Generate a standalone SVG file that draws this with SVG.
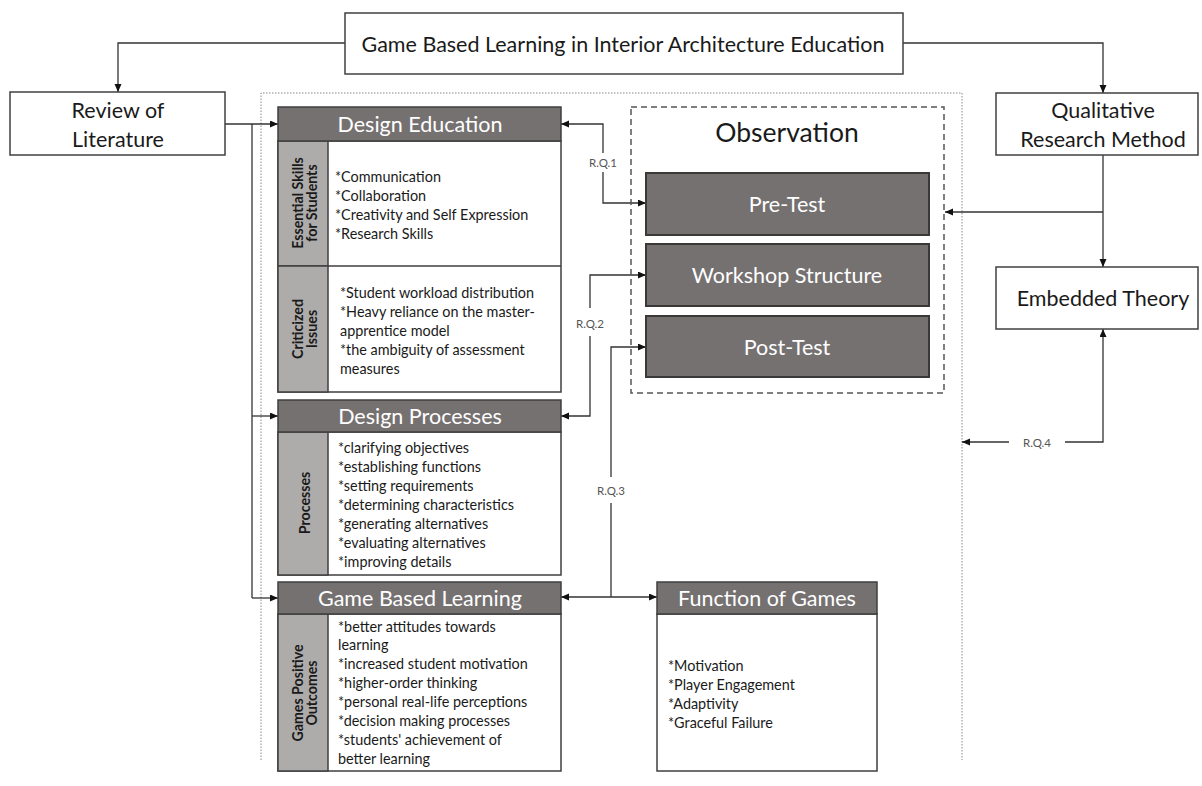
<svg xmlns="http://www.w3.org/2000/svg" width="1202" height="786" viewBox="0 0 1202 786">
<style>
text{font-family:Lato,"Liberation Sans",sans-serif}
.box{fill:#fff;stroke:#404040;stroke-width:1.5}
.hdr{fill:#767171;stroke:#3f3f3f;stroke-width:1.5}
.side{fill:#AEABAB;stroke:#3f3f3f;stroke-width:1.5}
.body{fill:#fff;stroke:#3f3f3f;stroke-width:1.5}
.obs{fill:#767171;stroke:#3b3838;stroke-width:2}
.ht{fill:#fff;font-size:21.5px;text-anchor:middle;dominant-baseline:central}
.mt{fill:#1a1a1a;font-size:21.5px;text-anchor:middle;dominant-baseline:central}
.bt{fill:#1a1a1a;font-size:14.4px;dominant-baseline:central}
.st{fill:#1a1a1a;font-size:14.2px;font-weight:bold;text-anchor:middle;dominant-baseline:central}
.lbl{fill:#555;font-size:11.5px;text-anchor:middle;dominant-baseline:central}
.con{fill:none;stroke:#333;stroke-width:1.3}
</style>
<defs>
<marker id="ah" markerUnits="userSpaceOnUse" markerWidth="9" markerHeight="8" refX="8" refY="3.5" orient="auto">
<path d="M0,0 L8,3.5 L0,7 z" fill="#111"/>
</marker>
</defs>

<!-- outer dotted frame -->
<path d="M261,760 V93 H962 V760" fill="none" stroke="#888" stroke-width="1" stroke-dasharray="1.5,1.5"/>

<g id="connectors">
<path class="con" d="M345,43 H118 V92" marker-end="url(#ah)"/>
<path class="con" d="M903,43 H1103 V93" marker-end="url(#ah)"/>
<path class="con" d="M225,124 H278" marker-end="url(#ah)"/>
<path class="con" d="M252,124 V598"/>
<path class="con" d="M252,416 H278" marker-end="url(#ah)"/>
<path class="con" d="M252,598 H278" marker-end="url(#ah)"/>
<path class="con" d="M603,153 V124 H561" marker-end="url(#ah)"/>
<path class="con" d="M603,172 V203 H646" marker-end="url(#ah)"/>
<path class="con" d="M590,308 V275 H646" marker-end="url(#ah)"/>
<path class="con" d="M590,336 V416 H561" marker-end="url(#ah)"/>
<path class="con" d="M611,477 V347 H646" marker-end="url(#ah)"/>
<path class="con" d="M611,503 V597"/>
<path class="con" d="M611,597 H561" stroke-width="2" marker-end="url(#ah)"/>
<path class="con" d="M611,597 H657" marker-end="url(#ah)"/>
<path class="con" d="M1103,155 V267" marker-end="url(#ah)"/>
<path class="con" d="M1103,212 H945" marker-end="url(#ah)"/>
<path class="con" d="M1065,442 H1103 V329" marker-end="url(#ah)"/>
<path class="con" d="M1009,442 H962" marker-end="url(#ah)"/>
<text class="lbl" x="603" y="162">R.Q.1</text>
<text class="lbl" x="590" y="323">R.Q.2</text>
<text class="lbl" x="611" y="490">R.Q.3</text>
<text class="lbl" x="1037" y="442">R.Q.4</text>
</g>

<g id="title">
<rect class="box" x="345" y="13" width="558" height="61"/>
<text class="mt" x="623" y="44">Game Based Learning in Interior Architecture Education</text>
</g>

<g id="review">
<rect class="box" x="10" y="92" width="215" height="63"/>
<text class="mt" x="118" y="110">Review of</text>
<text class="mt" x="118" y="139">Literature</text>
</g>

<g id="qualitative">
<rect class="box" x="996" y="93" width="202" height="62"/>
<text class="mt" x="1103" y="110">Qualitative</text>
<text class="mt" x="1103" y="139">Research Method</text>
</g>

<g id="embedded">
<rect class="box" x="996" y="267" width="202" height="62"/>
<text class="mt" x="1103" y="298">Embedded Theory</text>
</g>

<g id="design-education">
<rect class="body" x="278" y="141" width="283" height="251"/>
<line x1="278" y1="266" x2="561" y2="266" stroke="#3f3f3f" stroke-width="1.5"/>
<rect class="side" x="278" y="141" width="50" height="125"/>
<rect class="side" x="278" y="266" width="50" height="126"/>
<rect class="hdr" x="278" y="107" width="283" height="34"/>
<text class="ht" x="420" y="124">Design Education</text>
<text class="st" transform="translate(297,203) rotate(-90)">Essential Skills</text>
<text class="st" transform="translate(311,203) rotate(-90)">for Students</text>
<text class="st" transform="translate(297,329) rotate(-90)">Criticized</text>
<text class="st" transform="translate(311,329) rotate(-90)">Issues</text>
<text class="bt" x="335" y="176">*Communication</text>
<text class="bt" x="335" y="195">*Collaboration</text>
<text class="bt" x="335" y="214">*Creativity and Self Expression</text>
<text class="bt" x="335" y="233">*Research Skills</text>
<text class="bt" x="340" y="292">*Student workload distribution</text>
<text class="bt" x="340" y="311">*Heavy reliance on the master-</text>
<text class="bt" x="340" y="330">apprentice model</text>
<text class="bt" x="340" y="349">*the ambiguity of assessment</text>
<text class="bt" x="340" y="368">measures</text>
</g>

<g id="design-processes">
<rect class="body" x="278" y="432" width="283" height="143"/>
<rect class="side" x="278" y="432" width="50" height="143"/>
<rect class="hdr" x="278" y="400" width="283" height="32"/>
<text class="ht" x="420" y="416">Design Processes</text>
<text class="st" transform="translate(304,503) rotate(-90)">Processes</text>
<text class="bt" x="338" y="447">*clarifying objectives</text>
<text class="bt" x="338" y="466">*establishing functions</text>
<text class="bt" x="338" y="485">*setting requirements</text>
<text class="bt" x="338" y="504">*determining characteristics</text>
<text class="bt" x="338" y="523">*generating alternatives</text>
<text class="bt" x="338" y="542">*evaluating alternatives</text>
<text class="bt" x="338" y="561">*improving details</text>
</g>

<g id="game-based-learning">
<rect class="body" x="278" y="614" width="283" height="157"/>
<rect class="side" x="278" y="614" width="50" height="157"/>
<rect class="hdr" x="278" y="582" width="283" height="32"/>
<text class="ht" x="420" y="598">Game Based Learning</text>
<text class="st" transform="translate(297,693) rotate(-90)">Games Positive</text>
<text class="st" transform="translate(311,693) rotate(-90)">Outcomes</text>
<text class="bt" x="338" y="626">*better attitudes towards</text>
<text class="bt" x="338" y="644">learning</text>
<text class="bt" x="338" y="663">*increased student motivation</text>
<text class="bt" x="338" y="682">*higher-order thinking</text>
<text class="bt" x="338" y="701">*personal real-life perceptions</text>
<text class="bt" x="338" y="720">*decision making processes</text>
<text class="bt" x="338" y="739">*students' achievement of</text>
<text class="bt" x="338" y="758">better learning</text>
</g>

<g id="function-of-games">
<rect class="body" x="657" y="614" width="220" height="157"/>
<rect class="hdr" x="657" y="582" width="220" height="32"/>
<text class="ht" x="767" y="598">Function of Games</text>
<text class="bt" x="668" y="665">*Motivation</text>
<text class="bt" x="668" y="684">*Player Engagement</text>
<text class="bt" x="668" y="703">*Adaptivity</text>
<text class="bt" x="668" y="722">*Graceful Failure</text>
</g>

<g id="observation">
<rect x="631" y="107" width="313" height="286" fill="none" stroke="#555" stroke-width="1.5" stroke-dasharray="6,4"/>
<text x="787" y="132" fill="#1a1a1a" font-size="26.5" text-anchor="middle" dominant-baseline="central">Observation</text>
</g>
<g id="pre-test">
<rect class="obs" x="646" y="173" width="283" height="62"/>
<text class="ht" x="787" y="204">Pre-Test</text>
</g>
<g id="workshop-structure">
<rect class="obs" x="646" y="244" width="283" height="62"/>
<text class="ht" x="787" y="275">Workshop Structure</text>
</g>
<g id="post-test">
<rect class="obs" x="646" y="316" width="283" height="61"/>
<text class="ht" x="787" y="347">Post-Test</text>
</g>
</svg>
